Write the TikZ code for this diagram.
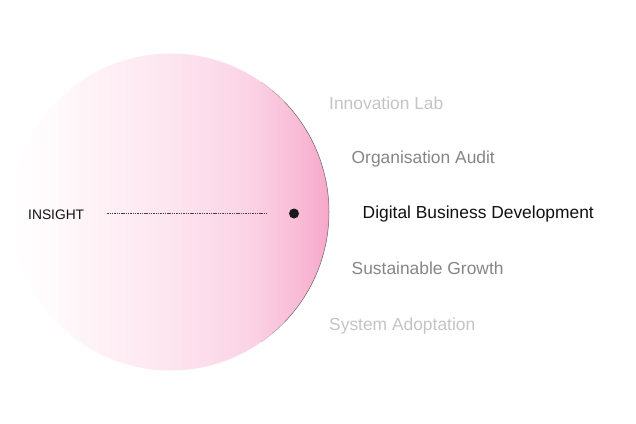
\documentclass[tikz,border=0pt]{standalone}
\usepackage{fontspec}
\setmainfont{Liberation Sans}
\definecolor{pinkA}{HTML}{FFFBFD}
\definecolor{pinkB}{HTML}{FEF1F6}
\definecolor{pinkC}{HTML}{FCE5EF}
\definecolor{pinkD}{HTML}{FBD4E5}
\definecolor{pinkE}{HTML}{F9BCD7}
\definecolor{pinkF}{HTML}{F6A8CA}
\definecolor{lightlbl}{HTML}{C4C4C4}
\definecolor{midlbl}{HTML}{858585}
\definecolor{darklbl}{HTML}{111111}
\pgfdeclarehorizontalshading{pinkfade}{100bp}{color(0bp)=(white); color(25bp)=(white); color(30bp)=(pinkA); color(39bp)=(pinkB); color(50bp)=(pinkC); color(62bp)=(pinkD); color(70bp)=(pinkE); color(75bp)=(pinkF); color(100bp)=(pinkF)}
\begin{document}
\begin{tikzpicture}[x=1pt,y=-1pt,
  lbl/.style={anchor=base west,inner sep=0pt,font=\fontsize{17.4}{20}\selectfont},
  far/.style={lbl,text=lightlbl},
  near/.style={lbl,text=midlbl},
  main/.style={lbl,text=darklbl},
  disc/.style={circle,minimum size=317pt,inner sep=0pt,shading=pinkfade},
  rim/.style={draw=black!60,line width=0.5pt},
  dotmark/.style={circle,fill=black!90,minimum size=10pt,inner sep=0pt},
  dashline/.style={draw=black!75,line width=0.6pt,dash pattern=on 1.4pt off 0.9pt}]
\useasboundingbox (0,0) rectangle (636,423);
\node[disc] (disc) at (170.5,212) {};
\draw[rim] (disc.center) ++(-44:158.5pt) arc[start angle=-44,end angle=44,radius=158.5pt];
\foreach \a/\b/\o in {44/50/0.6,50/55/0.3,-50/-44/0.6,-55/-50/0.3}
  \draw[rim,opacity=\o] (disc.center) ++(\a:158.5pt) arc[start angle=\a,end angle=\b,radius=158.5pt];
\node[dotmark] (dot) at (294,213.5) {};
\node[anchor=base west,inner sep=0pt,font=\fontsize{13.8}{16}\selectfont,text=darklbl] (insight) at (28,219) {INSIGHT};
\draw[dashline] ([xshift=23pt]insight.east |- dot.center) -- ([xshift=-21pt]dot.west);
\node[far] (lab) at (329,109.3) {Innovation Lab};
\node[near] (audit) at (351.5,163) {Organisation Audit};
\node[main] (digital) at (362.5,218.5) {Digital Business Development};
\node[near] (growth) at (351.5,274.5) {Sustainable Growth};
\node[far] (adopt) at (329,330.5) {System Adoptation};
\end{tikzpicture}
\end{document}
